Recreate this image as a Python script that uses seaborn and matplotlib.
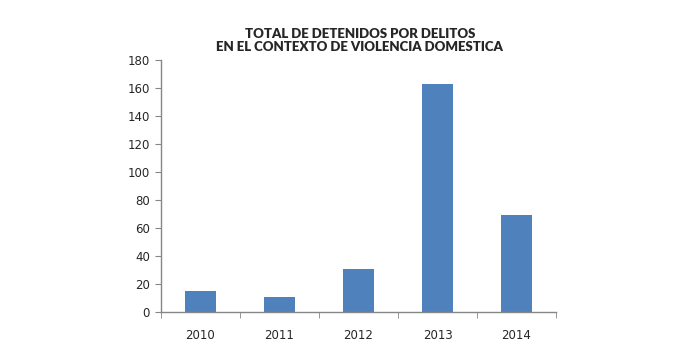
import matplotlib
matplotlib.use("Agg")
import matplotlib.pyplot as plt
import seaborn as sns
import pandas as pd

# datos
years = ["2010", "2011", "2012", "2013", "2014"]
detenidos = [15, 11, 31, 163, 69]

title_text = "TOTAL DE DETENIDOS POR DELITOS\nEN EL CONTEXTO DE VIOLENCIA DOMESTICA"


def main():
    df = pd.DataFrame({"year": years, "detenidos": detenidos})

    sns.set_style("white")
    plt.rcParams["font.family"] = ["DejaVu Sans"]

    fig = plt.figure(figsize=(7, 3.53), dpi=100)
    ax = fig.add_axes([161 / 700, 1 - 312 / 353, 395 / 700, 252 / 353])

    sns.barplot(data=df, x="year", y="detenidos", color="#4F81BD",
                saturation=1, width=0.405, linewidth=0, ax=ax)

    ax.set_ylim(0, 180)
    ax.set_yticks(range(0, 181, 20))
    ax.set_xlim(-0.5, 4.5)
    ax.set_xlabel("")
    ax.set_ylabel("")

    for side in ["top", "right"]:
        ax.spines[side].set_visible(False)
    for side in ["left", "bottom"]:
        ax.spines[side].set_color("#868686")
        ax.spines[side].set_linewidth(1)

    # marcas del eje x entre categorias
    ax.set_xticks([i for i in range(len(years))])
    ax.set_xticks([i - 0.5 for i in range(len(years) + 1)], minor=True)
    ax.tick_params(axis="x", which="major", length=0, pad=12, labelsize=8.5)
    ax.tick_params(axis="x", which="minor", length=4, color="#868686",
                   direction="out", bottom=True)
    ax.tick_params(axis="y", length=4, color="#868686", direction="out",
                   left=True, labelsize=8.5, pad=4)
    for lbl in ax.get_xticklabels() + ax.get_yticklabels():
        lbl.set_family("DejaVu Sans")

    fig.text(0.514, 0.885, title_text, ha="center", va="center",
             fontsize=9.5, fontweight="heavy", family=["Lato", "DejaVu Sans"],
             linespacing=1.05)

    fig.savefig("out.png", dpi=100)
    plt.close(fig)


if __name__ == "__main__":
    main()
